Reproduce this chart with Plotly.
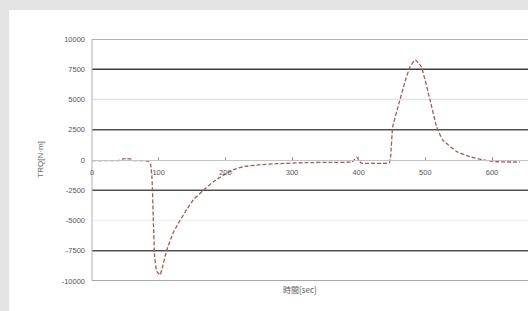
import plotly.graph_objects as go

# ---- data ----
time_sec = [0, 20, 40, 45, 52, 58, 62, 70, 80, 85, 88, 90, 92, 94, 97, 102, 106, 112,
            122, 132, 142, 152, 167, 182, 197, 212, 227, 250, 280, 320, 360, 390, 394,
            397, 400, 404, 420, 440, 446, 448, 451, 459, 469, 477, 485, 494, 507, 517,
            526, 547, 567, 587, 610, 642]
torque = [-50, -50, -50, 80, 120, 90, -50, -50, -60, -150, -400, -1500, -5000, -8000,
          -9200, -9500, -8800, -7450, -6000, -5000, -4100, -3300, -2500, -1800, -1250,
          -800, -550, -400, -300, -220, -190, -160, 50, 250, 0, -270, -270, -270, -250,
          300, 2730, 4390, 6370, 7700, 8280, 7700, 4970, 2730, 1660, 690, 270, 0, -150,
          -170]

x_ticks = [0, 100, 200, 300, 400, 500, 600]
y_ticks = [10000, 7500, 5000, 2500, 0, -2500, -5000, -7500, -10000]
x_title = "時間[sec]"
y_title = "TRQ[N·m]"

grid_colors = {10000: "#9a9a9a", 7500: "#3c3c3c", 5000: "#e4e4e4", 2500: "#505050",
               -2500: "#505050", -5000: "#f2f2f2", -7500: "#505050", -10000: "#8a8a8a"}

fig = go.Figure()

fig.add_trace(go.Scatter(
    x=time_sec, y=torque, mode="lines",
    line=dict(color="#a4595b", width=1.3, dash="4px,2px", shape="spline", smoothing=0.35),
    showlegend=False, hoverinfo="skip"))

shapes = []
# white chart area over the gray frame
shapes.append(dict(type="rect", xref="paper", yref="paper", x0=-0.19, x1=1.0,
                   y0=-0.13, y1=1.12, fillcolor="white", line=dict(width=0), layer="below"))
for v in y_ticks:
    if v == 0:
        continue
    shapes.append(dict(type="line", xref="paper", yref="y", x0=0, x1=1, y0=v, y1=v,
                       line=dict(color=grid_colors[v], width=1.5), layer="below"))
# left axis line
shapes.append(dict(type="line", xref="paper", yref="paper", x0=0, x1=0, y0=0, y1=1,
                   line=dict(color="#b0b0b0", width=1), layer="below"))

font_fam = "Liberation Sans, Arial, sans-serif"

fig.update_layout(
    width=528, height=311,
    margin=dict(l=92, r=0, t=39, b=30),
    paper_bgcolor="#e4e4e4", plot_bgcolor="rgba(0,0,0,0)",
    shapes=shapes,
    xaxis=dict(range=[0, 654], tickvals=x_ticks, ticktext=[str(t) for t in x_ticks],
               anchor="free", position=0.5, showline=True, linecolor="#c4c4c4",
               linewidth=1, ticks="inside", ticklen=3, tickcolor="#999",
               showgrid=False, zeroline=False, ticklabelstandoff=5,
               tickfont=dict(family=font_fam, size=7.5, color="#555")),
    yaxis=dict(range=[-10000, 10000], tickvals=y_ticks,
               ticktext=[str(t) for t in y_ticks], showgrid=False, zeroline=False,
               showline=False, ticks="", ticklabelstandoff=6,
               tickfont=dict(family=font_fam, size=7.5, color="#555")),
    annotations=[
        dict(text=x_title, xref="paper", yref="paper", x=0.477, y=-0.066,
             showarrow=False, font=dict(family="Noto Sans CJK JP, sans-serif", size=8, color="#555")),
        dict(text=y_title, xref="paper", yref="paper", x=-0.135, y=0.5, textangle=-90,
             showarrow=False, font=dict(family=font_fam, size=8, color="#666")),
    ],
)

fig.write_html("out.html", config={"displayModeBar": False},
               post_script="document.body.style.margin='0';document.body.style.overflow='hidden';")
